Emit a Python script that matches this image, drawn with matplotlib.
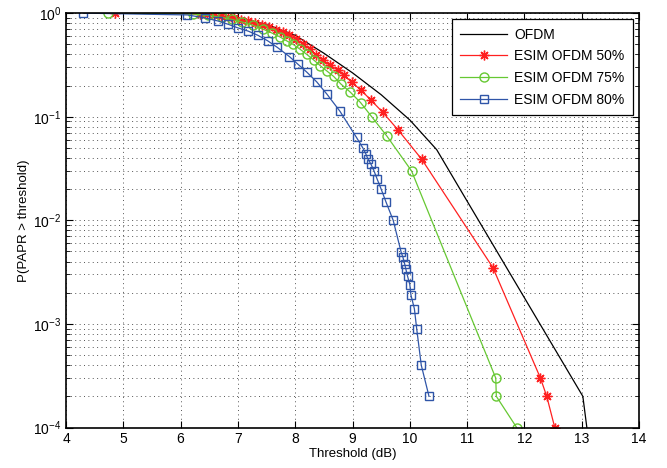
import numpy as np
import matplotlib
matplotlib.use("Agg")
import matplotlib.pyplot as plt
from matplotlib.ticker import LogLocator, NullFormatter, MultipleLocator

plt.rcParams['font.family'] = ['Liberation Sans', 'DejaVu Sans']

# OFDM reference curve
ofdm_x = [4.5, 6.0, 6.5, 7.0, 7.5, 8.0, 8.5, 9.0, 9.5, 10.0, 10.47, 10.9, 13.02, 13.09]
ofdm_y = [1.0, 1.0, 0.97, 0.9, 0.78, 0.61, 0.41, 0.265, 0.163, 0.093, 0.048, 0.019, 2e-4, 1e-4]

# ESIM OFDM 50%
esim50_x = [4.855, 6.34, 6.46, 6.58, 6.70, 6.82, 6.94, 7.06, 7.18, 7.30, 7.42, 7.54,
            7.66, 7.78, 7.90, 8.02, 8.14, 8.26, 8.37, 8.48, 8.60, 8.74, 8.86, 8.99,
            9.15, 9.32, 9.53, 9.80, 10.21, 11.45, 12.28, 12.39, 12.53]
esim50_y = [1.0, 0.98, 0.97, 0.95, 0.93, 0.91, 0.89, 0.86, 0.83, 0.80, 0.77, 0.73,
            0.69, 0.65, 0.61, 0.56, 0.50, 0.45, 0.39, 0.35, 0.315, 0.283, 0.25, 0.214,
            0.18, 0.145, 0.11, 0.074, 0.0387, 3.5e-3, 3e-4, 2e-4, 1e-4]

# ESIM OFDM 75%
esim75_x = [4.74, 6.22, 6.48, 6.72, 6.89, 7.07, 7.27, 7.44, 7.60, 7.73, 7.85, 7.96,
            8.08, 8.20, 8.33, 8.44, 8.55, 8.67, 8.80, 8.96, 9.14, 9.335, 9.60, 10.03,
            11.50, 11.51, 11.865]
esim75_y = [1.0, 0.98, 0.95, 0.91, 0.87, 0.82, 0.76, 0.70, 0.64, 0.59, 0.54, 0.50,
            0.45, 0.40, 0.35, 0.31, 0.277, 0.245, 0.206, 0.173, 0.137, 0.1, 0.065, 0.03,
            3e-4, 2e-4, 1e-4]

# ESIM OFDM 80%
esim80_x = [4.30, 6.12, 6.42, 6.65, 6.83, 7.00, 7.18, 7.35, 7.52, 7.68, 7.90, 8.05,
            8.20, 8.375, 8.55, 8.78, 9.07, 9.18, 9.23, 9.27, 9.32, 9.375, 9.43, 9.50,
            9.585, 9.71, 9.85, 9.88, 9.91, 9.93, 9.96, 10.0, 10.02, 10.08, 10.12,
            10.20, 10.335]
esim80_y = [1.0, 0.96, 0.90, 0.84, 0.78, 0.72, 0.67, 0.61, 0.54, 0.47, 0.38, 0.32,
            0.27, 0.217, 0.166, 0.113, 0.063, 0.05, 0.044, 0.039, 0.035, 0.03, 0.025,
            0.02, 0.015, 0.01, 0.0049, 0.0044, 0.0038, 0.0034, 0.0029, 0.0024, 0.0019,
            0.0014, 0.0009, 0.0004, 0.0002]

fig = plt.figure(figsize=(6.67, 4.68), dpi=100)
ax = fig.add_axes([0.099, 0.0865, 0.859, 0.8855])

ax.semilogy(ofdm_x, ofdm_y, color='black', lw=0.9, label='OFDM')
ax.semilogy(esim50_x, esim50_y, color='#ff2020', lw=0.9, marker=(8, 2, 0), ms=7,
            mew=1.0, label='ESIM OFDM 50%')
ax.semilogy(esim75_x, esim75_y, color='#66c832', lw=0.9, marker='o', ms=6.5,
            mfc='none', label='ESIM OFDM 75%')
ax.semilogy(esim80_x, esim80_y, color='#2f55a8', lw=0.9, marker='s', ms=5.8,
            mfc='none', label='ESIM OFDM 80%')

ax.set_xlim(4, 14)
ax.set_ylim(1e-4, 1)
ax.xaxis.set_major_locator(MultipleLocator(1))
ax.yaxis.set_major_locator(LogLocator(base=10, numticks=10))
ax.yaxis.set_minor_locator(LogLocator(base=10, subs=np.arange(2, 10), numticks=10))
ax.yaxis.set_minor_formatter(NullFormatter())

ax.grid(True, which='major', linestyle=(0, (1, 3.5)), color='#555555', lw=0.7)
ax.grid(True, which='minor', axis='y', linestyle=(0, (1, 3.5)), color='#555555', lw=0.7)
ax.tick_params(which='both', direction='in', top=True, right=True, labelsize=10)
ax.tick_params(which='major', length=5)
ax.tick_params(which='minor', length=3)
for s in ax.spines.values():
    s.set_linewidth(1.2)

ax.set_xlabel('Threshold (dB)', fontsize=9.5, labelpad=1)
ax.set_ylabel('P(PAPR > threshold)', fontsize=9.5, labelpad=2)

leg = ax.legend(loc='upper right', fontsize=10, fancybox=False, framealpha=1,
                edgecolor='black', borderaxespad=0.45, handlelength=3.4,
                handletextpad=0.5, labelspacing=0.55, borderpad=0.6)
leg.get_frame().set_linewidth(0.9)

fig.savefig('out.png', dpi=100)
